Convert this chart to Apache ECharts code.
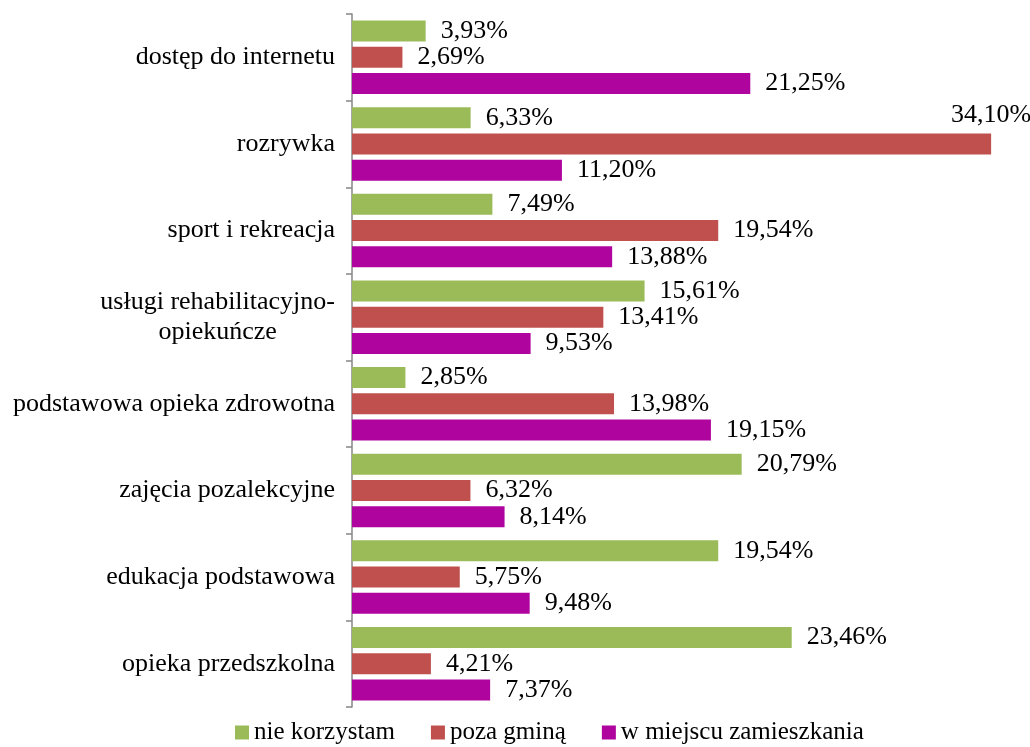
<!DOCTYPE html>
<html>
<head>
<meta charset="utf-8">
<script src="https://cdn.jsdelivr.net/npm/echarts@6/dist/echarts.min.js"></script>
<style>
html,body{margin:0;padding:0;background:#fff;}
#chart{width:1030px;height:747px;}
</style>
</head>
<body>
<div id="chart"></div>
<script>
var categories = ['dostęp do internetu', 'rozrywka', 'sport i rekreacja', 'usługi rehabilitacyjno-\nopiekuńcze', 'podstawowa opieka zdrowotna', 'zajęcia pozalekcyjne', 'edukacja podstawowa', 'opieka przedszkolna'];
var nieKorzystam = [3.93, 6.33, 7.49, 15.61, 2.85, 20.79, 19.54, 23.46];
var pozaGmina = [2.69, 34.10, 19.54, 13.41, 13.98, 6.32, 5.75, 4.21];
var wMiejscu = [21.25, 11.20, 13.88, 9.53, 19.15, 8.14, 9.48, 7.37];
var seriesNames = ['nie korzystam', 'poza gminą', 'w miejscu zamieszkania'];

var font = "'Liberation Serif', 'DejaVu Serif', serif";
var fsize = 26;
var colors = ['#9BBB59', '#C0504D', '#B0049E'];

function fmt(p) {
    return p.value.toFixed(2).replace('.', ',') + '%';
}

var chart = echarts.init(document.getElementById('chart'));
var series = [nieKorzystam, pozaGmina, wMiejscu].map(function (arr, i) {
    return {
        name: seriesNames[i],
        type: 'bar',
        barWidth: 21,
        barGap: '25%',
        data: arr.map(function (v) {
            // the longest bar has its label above the bar end
            if (v === 34.10) {
                return {value: v, label: {position: ['100%', -18], align: 'center', verticalAlign: 'middle'}};
            }
            return v;
        }),
        itemStyle: {color: colors[i]},
        label: {
            show: true,
            position: 'right',
            distance: 15,
            formatter: fmt,
            fontFamily: font,
            fontSize: fsize,
            color: '#000'
        }
    };
});

var option = {
    animation: false,
    textStyle: {fontFamily: font},
    legend: {
        top: 715,
        left: 230,
        itemWidth: 14,
        itemHeight: 14,
        itemGap: 36,
        icon: 'rect',
        textStyle: {fontFamily: font, fontSize: 25, color: '#000'},
        data: seriesNames
    },
    grid: {left: 352, right: 22, top: 14, bottom: 40},
    xAxis: {
        type: 'value',
        min: 0,
        max: 35,
        show: false
    },
    yAxis: {
        type: 'category',
        inverse: true,
        data: categories,
        axisLine: {lineStyle: {color: '#868686', width: 1.5}},
        axisTick: {show: true, length: 6, lineStyle: {color: '#868686', width: 1.5}},
        axisLabel: {
            margin: 17,
            fontFamily: font,
            fontSize: fsize,
            color: '#000',
            formatter: function (v) {
                if (v.indexOf('\n') >= 0) {
                    return v.split('\n').map(function (s) { return '{c|' + s + '}'; }).join('\n');
                }
                return v;
            },
            rich: {c: {align: 'center', fontFamily: font, fontSize: fsize, color: '#000', lineHeight: 30}}
        }
    },
    series: series
};
chart.setOption(option);
</script>
</body>
</html>
